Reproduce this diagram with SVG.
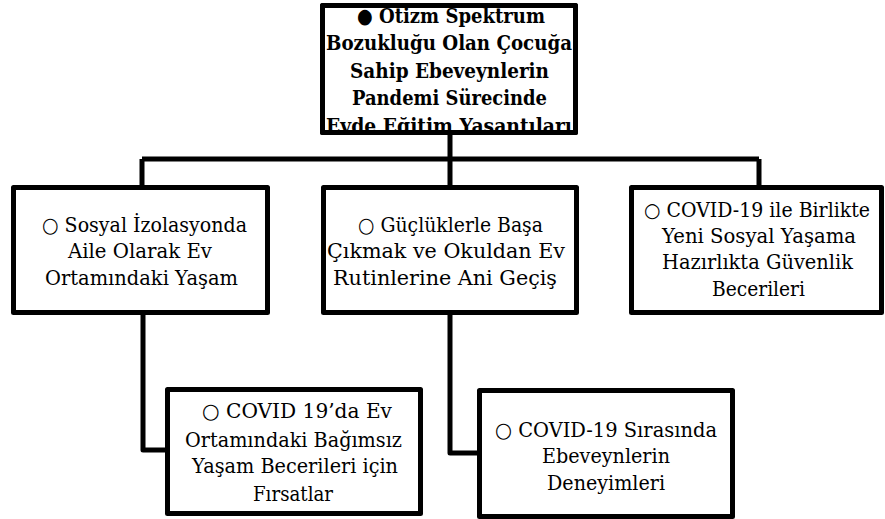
<svg xmlns="http://www.w3.org/2000/svg" width="885" height="519" viewBox="0 0 885 519">
<style>
.box{fill:#fff;stroke:#000;stroke-width:5;stroke-linejoin:round}
.conn{fill:none;stroke:#000;stroke-width:5;stroke-linejoin:round}
.t{font-family:'DejaVu Serif','Liberation Serif',serif;font-size:21px;fill:#000;text-anchor:middle}
.b{font-weight:bold;font-size:20.5px}
.s{font-size:20px}
</style>
<defs>
<clipPath id="topclip"><rect x="322.5" y="5.5" width="253" height="127"/></clipPath>
</defs>
<rect width="885" height="519" fill="#fff"/>
<g id="connectors">
<path class="conn" d="M450,135 V159 M142,159 H759 M142,159 V187 M450,159 V187 M759,159 V187"/>
<path class="conn" d="M143,313 V450 H168"/>
<path class="conn" d="M450,313 V453 H480"/>
</g>
<g id="root">
<rect class="box" x="322.5" y="5.5" width="253" height="127"/>
<g clip-path="url(#topclip)">
<text class="t b" x="451" y="23" textLength="188" lengthAdjust="spacingAndGlyphs">● Otizm Spektrum</text>
<text class="t b" x="449" y="50" textLength="246" lengthAdjust="spacingAndGlyphs">Bozukluğu Olan Çocuğa</text>
<text class="t b" x="449.5" y="78" textLength="199" lengthAdjust="spacingAndGlyphs">Sahip Ebeveynlerin</text>
<text class="t b" x="449.5" y="105" textLength="195" lengthAdjust="spacingAndGlyphs">Pandemi Sürecinde</text>
<text class="t b" x="449" y="133" textLength="246" lengthAdjust="spacingAndGlyphs">Evde Eğitim Yaşantıları</text>
</g>
<rect x="322.5" y="5.5" width="253" height="127" fill="none" stroke="#000" stroke-width="5" stroke-linejoin="round"/>
</g>
<g id="n1">
<rect class="box" x="13.5" y="187.5" width="254" height="125"/>
<text class="t" x="144.5" y="232" textLength="205" lengthAdjust="spacingAndGlyphs">○ Sosyal İzolasyonda</text>
<text class="t" x="140" y="258" textLength="144" lengthAdjust="spacingAndGlyphs">Aile Olarak Ev</text>
<text class="t" x="141.5" y="285" textLength="193" lengthAdjust="spacingAndGlyphs">Ortamındaki Yaşam</text>
</g>
<g id="n2">
<rect class="box" x="323.5" y="187.5" width="253" height="125"/>
<text class="t" x="450.5" y="232" textLength="185" lengthAdjust="spacingAndGlyphs">○ Güçlüklerle Başa</text>
<text class="t" x="446" y="258" textLength="238" lengthAdjust="spacingAndGlyphs">Çıkmak ve Okuldan Ev</text>
<text class="t" x="445" y="285" textLength="224" lengthAdjust="spacingAndGlyphs">Rutinlerine Ani Geçiş</text>
</g>
<g id="n3">
<rect class="box" x="631.5" y="187.5" width="250" height="125"/>
<text class="t s" x="757" y="217" textLength="226" lengthAdjust="spacingAndGlyphs">○ COVID-19 ile Birlikte</text>
<text class="t" x="759" y="243" textLength="194" lengthAdjust="spacingAndGlyphs">Yeni Sosyal Yaşama</text>
<text class="t" x="757.5" y="269" textLength="191" lengthAdjust="spacingAndGlyphs">Hazırlıkta Güvenlik</text>
<text class="t" x="758.5" y="296" textLength="93" lengthAdjust="spacingAndGlyphs">Becerileri</text>
</g>
<g id="n4">
<rect class="box" x="167.5" y="389.5" width="253" height="124"/>
<text class="t" x="297" y="418" textLength="190" lengthAdjust="spacingAndGlyphs">○ COVID 19’da Ev</text>
<text class="t" x="293.5" y="447" textLength="217" lengthAdjust="spacingAndGlyphs">Ortamındaki Bağımsız</text>
<text class="t" x="295" y="473" textLength="206" lengthAdjust="spacingAndGlyphs">Yaşam Becerileri için</text>
<text class="t" x="293" y="501" textLength="80" lengthAdjust="spacingAndGlyphs">Fırsatlar</text>
</g>
<g id="n5">
<rect class="box" x="479.5" y="390.5" width="253" height="126"/>
<text class="t" x="606" y="437" textLength="222" lengthAdjust="spacingAndGlyphs">○ COVID-19 Sırasında</text>
<text class="t" x="606" y="463" textLength="128" lengthAdjust="spacingAndGlyphs">Ebeveynlerin</text>
<text class="t" x="606" y="490" textLength="118" lengthAdjust="spacingAndGlyphs">Deneyimleri</text>
</g>
</svg>
